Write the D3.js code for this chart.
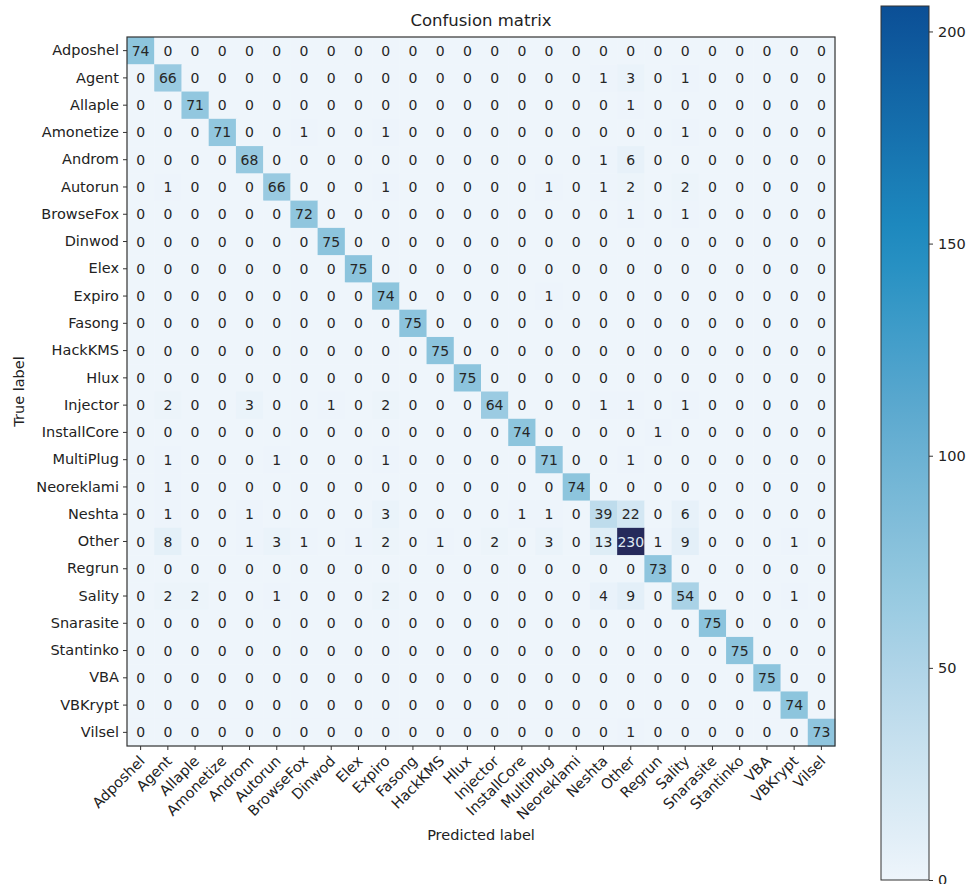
<!DOCTYPE html>
<html>
<head>
<meta charset="utf-8">
<script src="https://cdn.jsdelivr.net/npm/d3@7"></script>
<style>
  body { margin: 0; background: #fff; }
  text { font-family: "DejaVu Sans", sans-serif; }
</style>
</head>
<body>
<svg id="chart" width="969" height="884"></svg>
<script>
const labels = ["Adposhel","Agent","Allaple","Amonetize","Androm","Autorun","BrowseFox","Dinwod","Elex","Expiro","Fasong","HackKMS","Hlux","Injector","InstallCore","MultiPlug","Neoreklami","Neshta","Other","Regrun","Sality","Snarasite","Stantinko","VBA","VBKrypt","Vilsel"];

const matrix = [
  [74,0,0,0,0,0,0,0,0,0,0,0,0,0,0,0,0,0,0,0,0,0,0,0,0,0],
  [0,66,0,0,0,0,0,0,0,0,0,0,0,0,0,0,0,1,3,0,1,0,0,0,0,0],
  [0,0,71,0,0,0,0,0,0,0,0,0,0,0,0,0,0,0,1,0,0,0,0,0,0,0],
  [0,0,0,71,0,0,1,0,0,1,0,0,0,0,0,0,0,0,0,0,1,0,0,0,0,0],
  [0,0,0,0,68,0,0,0,0,0,0,0,0,0,0,0,0,1,6,0,0,0,0,0,0,0],
  [0,1,0,0,0,66,0,0,0,1,0,0,0,0,0,1,0,1,2,0,2,0,0,0,0,0],
  [0,0,0,0,0,0,72,0,0,0,0,0,0,0,0,0,0,0,1,0,1,0,0,0,0,0],
  [0,0,0,0,0,0,0,75,0,0,0,0,0,0,0,0,0,0,0,0,0,0,0,0,0,0],
  [0,0,0,0,0,0,0,0,75,0,0,0,0,0,0,0,0,0,0,0,0,0,0,0,0,0],
  [0,0,0,0,0,0,0,0,0,74,0,0,0,0,0,1,0,0,0,0,0,0,0,0,0,0],
  [0,0,0,0,0,0,0,0,0,0,75,0,0,0,0,0,0,0,0,0,0,0,0,0,0,0],
  [0,0,0,0,0,0,0,0,0,0,0,75,0,0,0,0,0,0,0,0,0,0,0,0,0,0],
  [0,0,0,0,0,0,0,0,0,0,0,0,75,0,0,0,0,0,0,0,0,0,0,0,0,0],
  [0,2,0,0,3,0,0,1,0,2,0,0,0,64,0,0,0,1,1,0,1,0,0,0,0,0],
  [0,0,0,0,0,0,0,0,0,0,0,0,0,0,74,0,0,0,0,1,0,0,0,0,0,0],
  [0,1,0,0,0,1,0,0,0,1,0,0,0,0,0,71,0,0,1,0,0,0,0,0,0,0],
  [0,1,0,0,0,0,0,0,0,0,0,0,0,0,0,0,74,0,0,0,0,0,0,0,0,0],
  [0,1,0,0,1,0,0,0,0,3,0,0,0,0,1,1,0,39,22,0,6,0,0,0,0,0],
  [0,8,0,0,1,3,1,0,1,2,0,1,0,2,0,3,0,13,230,1,9,0,0,0,1,0],
  [0,0,0,0,0,0,0,0,0,0,0,0,0,0,0,0,0,0,0,73,0,0,0,0,0,0],
  [0,2,2,0,0,1,0,0,0,2,0,0,0,0,0,0,0,4,9,0,54,0,0,0,1,0],
  [0,0,0,0,0,0,0,0,0,0,0,0,0,0,0,0,0,0,0,0,0,75,0,0,0,0],
  [0,0,0,0,0,0,0,0,0,0,0,0,0,0,0,0,0,0,0,0,0,0,75,0,0,0],
  [0,0,0,0,0,0,0,0,0,0,0,0,0,0,0,0,0,0,0,0,0,0,0,75,0,0],
  [0,0,0,0,0,0,0,0,0,0,0,0,0,0,0,0,0,0,0,0,0,0,0,0,74,0],
  [0,0,0,0,0,0,0,0,0,0,0,0,0,0,0,0,0,0,1,0,0,0,0,0,0,73]
];

const colorbarTicks = [0, 50, 100, 150, 200];
const colorbarMax = 206;

const svg = d3.select("#chart");
const mLeft = 127, mRight = 835, mTop = 37, mBottom = 746;

const x = d3.scaleBand().domain(labels).range([mLeft, mRight]);
const y = d3.scaleBand().domain(labels).range([mTop, mBottom]);

const color = d3.scaleLinear()
  .domain([0, 40, 75, 100, 150, 206, 230])
  .range(["#eef5fb", "#bddbec", "#8cc4dd", "#6cb1d3", "#1f8dc1", "#0b4f96", "#262a5b"])
  .clamp(true);

const cells = [];
matrix.forEach((row, i) => row.forEach((v, j) => cells.push({r: labels[i], c: labels[j], v})));

const maxV = d3.max(cells, d => d.v);

svg.append("g").selectAll("rect").data(cells).join("rect")
  .attr("x", d => x(d.c)).attr("y", d => y(d.r))
  .attr("width", x.bandwidth() + 0.5).attr("height", y.bandwidth() + 0.5)
  .attr("fill", d => color(d.v));

svg.append("g").selectAll("text").data(cells).join("text")
  .attr("x", d => x(d.c) + x.bandwidth() / 2)
  .attr("y", d => y(d.r) + y.bandwidth() / 2)
  .attr("dy", "0.36em")
  .attr("text-anchor", "middle")
  .attr("font-size", 14)
  .attr("fill", d => d.v > maxV / 2 ? "#dfe8f2" : "#262626")
  .text(d => d.v);

// frame
svg.append("rect").attr("x", mLeft).attr("y", mTop)
  .attr("width", mRight - mLeft).attr("height", mBottom - mTop)
  .attr("fill", "none").attr("stroke", "#333").attr("stroke-width", 1.2);

// y axis
const yAxis = svg.append("g").attr("transform", `translate(${mLeft},0)`)
  .call(d3.axisLeft(y).tickSize(4).tickPadding(4));
yAxis.select(".domain").remove();
yAxis.selectAll("text").attr("font-size", 14.5).attr("fill", "#222")
  .style("font-family", "DejaVu Sans");
yAxis.selectAll("line").attr("stroke", "#333");

// x axis
const xAxis = svg.append("g").attr("transform", `translate(0,${mBottom})`)
  .call(d3.axisBottom(x).tickSize(4).tickPadding(4));
xAxis.select(".domain").remove();
xAxis.selectAll("line").attr("stroke", "#333");
xAxis.selectAll("text")
  .attr("font-size", 14.5).attr("fill", "#222")
  .style("font-family", "DejaVu Sans")
  .attr("text-anchor", "end")
  .attr("dy", null)
  .attr("y", 0)
  .attr("transform", "translate(5,16) rotate(-45)");

// title and axis labels
svg.append("text").attr("x", (mLeft + mRight) / 2).attr("y", 26)
  .attr("text-anchor", "middle").attr("font-size", 16.5).attr("fill", "#222")
  .text("Confusion matrix");

svg.append("text").attr("x", (mLeft + mRight) / 2).attr("y", 840)
  .attr("text-anchor", "middle").attr("font-size", 14.5).attr("fill", "#222")
  .text("Predicted label");

svg.append("text")
  .attr("transform", `translate(24,${(mTop + mBottom) / 2}) rotate(-90)`)
  .attr("text-anchor", "middle").attr("font-size", 14.5).attr("fill", "#222")
  .text("True label");

// colorbar
const cbX = 881, cbW = 48, cbTop = 6, cbBottom = 880;
const cbScale = d3.scaleLinear().domain([0, colorbarMax]).range([cbBottom, cbTop]);
const defs = svg.append("defs");
const grad = defs.append("linearGradient").attr("id", "cbgrad")
  .attr("x1", 0).attr("y1", 1).attr("x2", 0).attr("y2", 0);
d3.range(0, 21).forEach(k => {
  const v = colorbarMax * k / 20;
  grad.append("stop").attr("offset", k / 20).attr("stop-color", color(v));
});
svg.append("rect").attr("x", cbX).attr("y", cbTop).attr("width", cbW)
  .attr("height", cbBottom - cbTop).attr("fill", "url(#cbgrad)")
  .attr("stroke", "#333").attr("stroke-width", 1);
const cbAxis = svg.append("g").attr("transform", `translate(${cbX + cbW},0)`)
  .call(d3.axisRight(cbScale).tickValues(colorbarTicks).tickSize(4).tickPadding(5));
cbAxis.select(".domain").remove();
cbAxis.selectAll("line").attr("stroke", "#333");
cbAxis.selectAll("text").attr("font-size", 14.5).attr("fill", "#222")
  .style("font-family", "DejaVu Sans");
</script>
</body>
</html>
